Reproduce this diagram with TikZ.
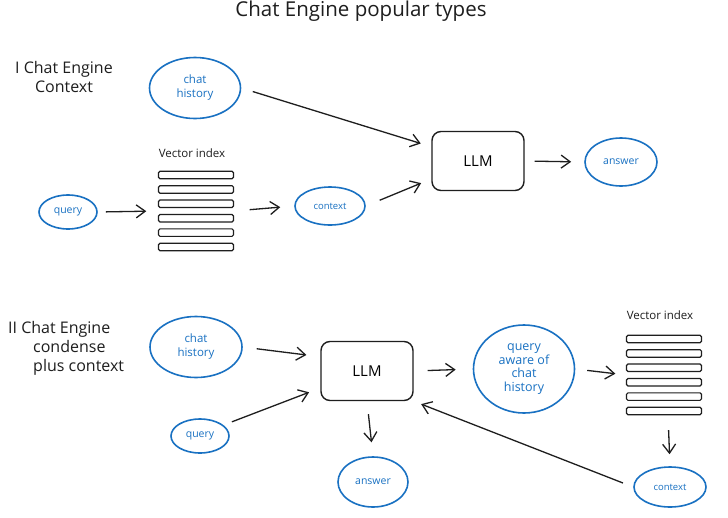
\documentclass[tikz,border=0pt]{standalone}
\usepackage{fontspec}
\setmainfont{Open Sans}
\usetikzlibrary{shapes.geometric,arrows.meta,calc}
\definecolor{inkblue}{HTML}{1971C2}
\definecolor{ink}{HTML}{1E1E1E}
\tikzset{
  bubble/.style={ellipse, draw=inkblue, line width=1.6pt, text=inkblue,
    inner sep=0pt, align=center, font=\fontsize{10.5}{13}\selectfont},
  llmbox/.style={rectangle, rounded corners=9pt, draw=ink, line width=1.4pt,
    minimum width=92pt, minimum height=59pt, font=\fontsize{15}{18}\selectfont},
  bar/.style={rectangle, rounded corners=1.5pt, draw=ink, line width=1.2pt,
    minimum width=75pt, minimum height=7.5pt, inner sep=0pt},
  stack/.style={rectangle, minimum width=75pt, minimum height=80pt, inner sep=0pt},
  caption/.style={font=\fontsize{11.5}{13}\selectfont, text=ink},
  heading/.style={font=\fontsize{16}{18.5}\selectfont, text=ink, align=left, inner sep=0pt},
  arr/.style={draw=ink, line width=1.3pt,
    -{Straight Barb[length=9pt,width=13pt,line width=1.3pt]}},
}
\begin{document}
\begin{tikzpicture}[x=1pt,y=-1pt]
\useasboundingbox[fill=white] (0,0) rectangle (728,517);

% title
\node[font=\fontsize{20.5}{24}\selectfont, text=ink] (title) at (361,11) {Chat Engine popular types};

% ---------- I: Chat Engine Context ----------
\node[heading, align=center] (head1) at (64,77) {I Chat Engine\\Context};

\node[bubble, minimum width=91pt, minimum height=61pt, font=\fontsize{11.5}{14}\selectfont] (ch1) at (195,88) {chat\\history};
\node[llmbox] (llm1) at (478,161) {LLM};
\node[bubble, minimum width=72pt, minimum height=48pt] (ans1) at (621,162) {answer};
\node[bubble, minimum width=58pt, minimum height=34pt] (q1) at (68,212) {query};
\node[bubble, minimum width=70pt, minimum height=38pt, font=\fontsize{9.5}{11}\selectfont] (ctx1) at (330,206) {context};

\node[caption] (vl1) at (192,153) {Vector index};
\node[stack] (idx1) at (196,211) {};
\foreach \i in {0,...,5}
  \node[bar] (b1-\i) at (196,175+14.4*\i) {};

\draw[arr, shorten <=12pt, shorten >=11pt] (ch1.east) -- (llm1.163);
\draw[arr, shorten <=15pt, shorten >=11pt] (ctx1.east) -- (llm1.201);
\draw[arr, shorten <=10pt, shorten >=13pt] (llm1.east) -- (ans1.west);
\draw[arr, shorten <=8pt, shorten >=12pt] (q1.east) -- (idx1.west);
\draw[arr, shorten <=16pt, shorten >=14pt] (idx1.east) -- (ctx1.west);

% ---------- II: Chat Engine condense plus context ----------
\node[heading, anchor=north west, font=\fontsize{16}{19}\selectfont] (head2) at (8,321)
  {II Chat Engine\\\hspace*{25pt}condense\\\hspace*{25pt}plus context};

\node[bubble, minimum width=92pt, minimum height=61pt, font=\fontsize{11.5}{14}\selectfont] (ch2) at (196,347) {chat\\history};
\node[bubble, minimum width=58pt, minimum height=34pt] (q2) at (200,436) {query};
\node[llmbox] (llm2) at (367,371) {LLM};
\node[bubble, minimum width=70pt, minimum height=50pt] (ans2) at (373,482) {answer};
\node[bubble, minimum width=101pt, minimum height=88pt,
      font=\fontsize{12.5}{13.5}\selectfont] (qa) at (524,369) {query\\aware of\\chat\\history};
\node[bubble, minimum width=72pt, minimum height=40pt, font=\fontsize{9.5}{11}\selectfont] (ctx2) at (670,487) {context};

\node[caption] (vl2) at (660,315) {Vector index};
\node[stack] (idx2) at (664,375) {};
\foreach \i in {0,...,5}
  \node[bar] (b2-\i) at (664,339+14.4*\i) {};

\draw[arr, shorten <=14pt, shorten >=14pt] (ch2.east) -- (llm2.163);
\draw[arr, shorten <=9pt, shorten >=12pt] (q2.25) -- (llm2.200);
\draw[arr, shorten <=13pt, shorten >=14pt] (llm2.south) -- (ans2.north);
\draw[arr, shorten <=14pt, shorten >=17pt] (llm2.east) -- (qa.west);
\draw[arr, shorten <=12pt, shorten >=11pt] (qa.east) -- (idx2.west);
\draw[arr, shorten <=15pt, shorten >=12pt] ([xshift=4pt]idx2.south) -- (ctx2.north);
\draw[arr, shorten <=11pt, shorten >=8pt] (ctx2.west) -- (llm2.south east);
\end{tikzpicture}
\end{document}
